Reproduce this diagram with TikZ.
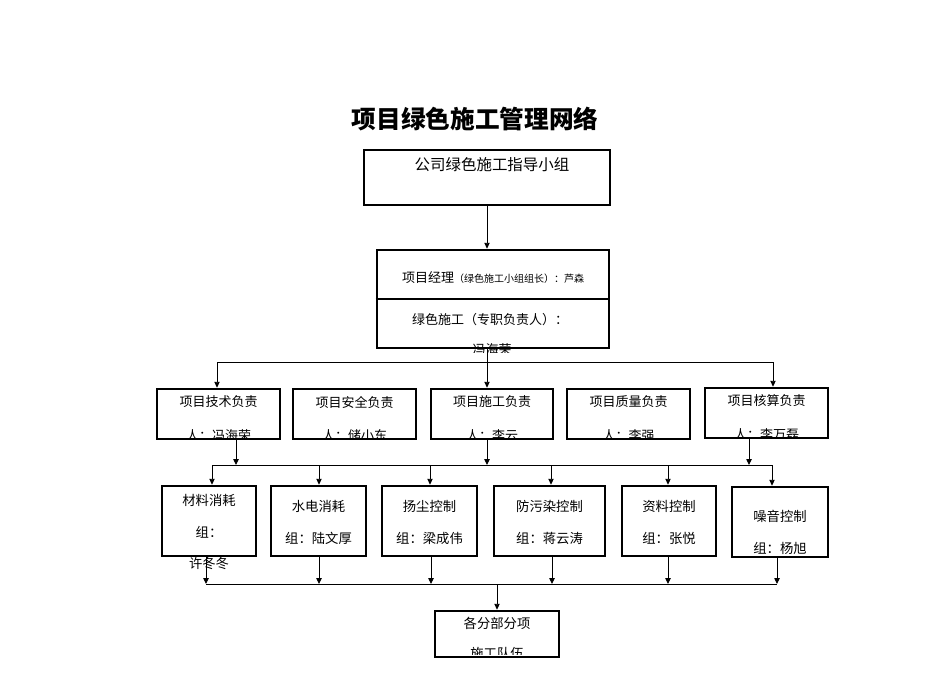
\documentclass[tikz,border=0pt]{standalone}
\usepackage{fontspec}
\setmainfont{Noto Sans CJK SC}
\usetikzlibrary{arrows.meta,fit}
\begin{document}
\begin{tikzpicture}[x=0.75pt,y=-0.75pt,
  box/.style={draw, line width=2pt, inner sep=0pt, rectangle},
  arr/.style={-{Triangle[length=4.4pt,width=4pt]}, line width=0.7pt},
  ln/.style={line width=0.7pt},
  txt/.style={inner sep=0pt, font=\fontsize{9.75pt}{11pt}\selectfont},
  txtb/.style={inner sep=0pt, font=\fontsize{10pt}{12pt}\selectfont}
]
\useasboundingbox (0,0) rectangle (950,672);

% title
\node[inner sep=0pt, font=\fontsize{18.5pt}{20pt}\selectfont\bfseries] (title) at (475,119) {项目绿色施工管理网络};

% top boxes
\node[box, fit={(364,150) (610,205)}] (b1) {};
\node[inner sep=0pt, font=\fontsize{11.6pt}{13pt}\selectfont] (t1) at (492,165) {公司绿色施工指导小组};

\node[box, fit={(377,250) (609,348)}] (b2) {};
\coordinate (dv) at (0,299);
\draw[line width=2pt] (b2.west |- dv) -- (b2.east |- dv);
\node[txt] (t2) at (493,278) {项目经理{\fontsize{7.5pt}{9pt}\selectfont（绿色施工小组组长）：芦森}};
\node[txt] (t3) at (490,320) {绿色施工（专职负责人）：};
\begin{scope}
  \clip (370,300) rectangle (620,352);
  \node[txt] (t4) at (492,350) {冯海荣};
\end{scope}

% row 3 boxes
\node[box, fit={(157,389) (280,439)}] (r1) {};
\node[box, fit={(293,389) (416,439)}] (r2) {};
\node[box, fit={(431,389) (553,439)}] (r3) {};
\node[box, fit={(567,389) (690,439)}] (r4) {};
\node[box, fit={(705,388) (828,438)}] (r5) {};

\node[txt] (r1a) at (218.5,402) {项目技术负责};
\node[txt] (r2a) at (354.5,402) {项目安全负责};
\node[txt] (r3a) at (492,402) {项目施工负责};
\node[txt] (r4a) at (628.5,402) {项目质量负责};
\node[txt] (r5a) at (766.5,401) {项目核算负责};
\begin{scope}
  \clip (150,380) rectangle (840,437.5);
  \node[txt] (r1b) at (218.5,436) {人：冯海荣};
  \node[txt] (r2b) at (354.5,436) {人：储小东};
  \node[txt] (r3b) at (492,436) {人：李云};
  \node[txt] (r4b) at (628.5,436) {人：李强};
  \node[txt] (r5b) at (766.5,435) {人：李万磊};
\end{scope}

% row 4 boxes
\node[box, fit={(162,486) (256,556)}] (s1) {};
\node[box, fit={(271,486) (366,556)}] (s2) {};
\node[box, fit={(382,486) (477,556)}] (s3) {};
\node[box, fit={(494,486) (605,556)}] (s4) {};
\node[box, fit={(622,486) (716,556)}] (s5) {};
\node[box, fit={(732,487) (828,557)}] (s6) {};

\node[txtb] (s1a) at (209,500) {材料消耗};
\node[txtb] (s1b) at (209,532) {组：};
\node[txtb] (s1c) at (209,563) {许冬冬};
\node[txtb] (s2a) at (318.5,506) {水电消耗};
\node[txtb] (s2b) at (318.5,538) {组：陆文厚};
\node[txtb] (s3a) at (429.5,506) {扬尘控制};
\node[txtb] (s3b) at (429.5,538) {组：梁成伟};
\node[txtb] (s4a) at (549.5,506) {防污染控制};
\node[txtb] (s4b) at (549.5,538) {组：蒋云涛};
\node[txtb] (s5a) at (669,506) {资料控制};
\node[txtb] (s5b) at (669,538) {组：张悦};
\node[txtb] (s6a) at (780,516) {噪音控制};
\node[txtb] (s6b) at (780,548) {组：杨旭};

% bottom box
\node[box, fit={(435,611) (559,657)}] (bb) {};
\node[txtb] (bba) at (497,623) {各分部分项};
\begin{scope}
  \clip (430,600) rectangle (565,654.5);
  \node[txtb] (bbb) at (497,653) {施工队伍};
\end{scope}

% connectors: top
\draw[arr] (b1.south) -- (b1.south |- b2.north);

\coordinate (k1) at (487,362);
\coordinate (k1l) at (217,362);
\coordinate (k1r) at (773,362);
\draw[arr] (b2.south -| k1) -- (k1 |- r3.north);
\draw[ln] (k1l) -- (k1r);
\draw[arr] (k1l) -- (k1l |- r1.north);
\draw[arr] (k1r) -- (k1r |- r5.north);

% row 3 to bus 2
\coordinate (m1) at (236,465);
\coordinate (m3) at (487,465);
\coordinate (m5) at (749,465);
\draw[arr] (r1.south -| m1) -- (m1);
\draw[arr] (r3.south -| m3) -- (m3);
\draw[arr] (r5.south -| m5) -- (m5);

\coordinate (n1) at (212,465);
\coordinate (n2) at (319,465);
\coordinate (n3) at (430,465);
\coordinate (n4) at (551,465);
\coordinate (n5) at (668,465);
\coordinate (n6) at (772,465);
\draw[ln] (n1) -- (n6);
\draw[arr] (n1) -- (n1 |- s1.north);
\draw[arr] (n2) -- (n2 |- s2.north);
\draw[arr] (n3) -- (n3 |- s3.north);
\draw[arr] (n4) -- (n4 |- s4.north);
\draw[arr] (n5) -- (n5 |- s5.north);
\draw[arr] (n6) -- (n6 |- s6.north);

% row 4 to bus 3
\coordinate (p1) at (206,584);
\coordinate (p2) at (319,584);
\coordinate (p3) at (431,584);
\coordinate (p4) at (552,584);
\coordinate (p5) at (668,584);
\coordinate (p6) at (777,584);
\coordinate (pc) at (497,584);
\draw[arr] (s1.south -| p1) -- (p1);
\draw[arr] (s2.south -| p2) -- (p2);
\draw[arr] (s3.south -| p3) -- (p3);
\draw[arr] (s4.south -| p4) -- (p4);
\draw[arr] (s5.south -| p5) -- (p5);
\draw[arr] (s6.south -| p6) -- (p6);
\draw[ln] (p1) -- (p6);
\draw[arr] (pc) -- (pc |- bb.north);
\end{tikzpicture}
\end{document}
